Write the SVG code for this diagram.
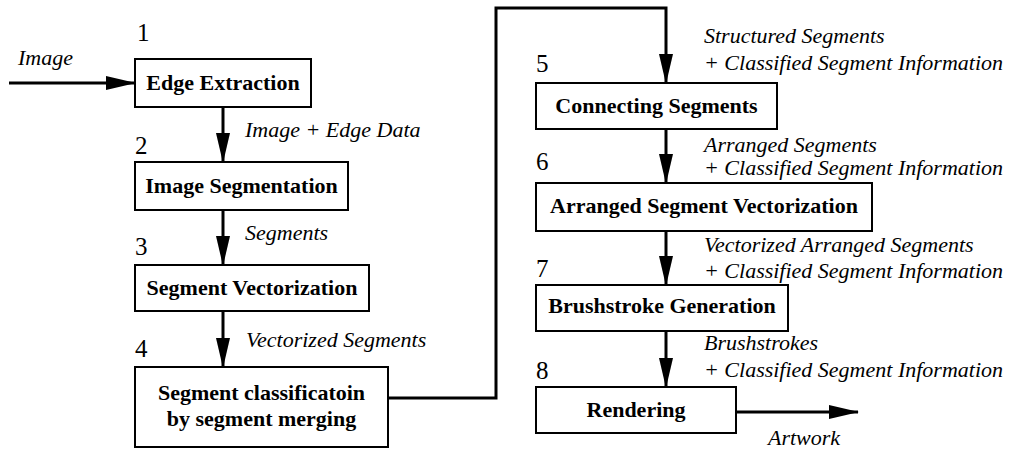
<svg xmlns="http://www.w3.org/2000/svg" width="1026" height="451" viewBox="0 0 1026 451">
<style>
.box{fill:#fff;stroke:#000;stroke-width:2}
.t{font-family:"Liberation Serif","Times New Roman",serif;font-weight:bold;font-size:22px;text-anchor:middle;fill:#000}
.n{font-family:"Liberation Serif","Times New Roman",serif;font-size:25px;fill:#000}
.l{font-family:"Liberation Serif","Times New Roman",serif;font-style:italic;font-size:22px;fill:#000}
.c{fill:none;stroke:#000;stroke-width:3;marker-end:url(#ah)}
</style>
<defs>
<marker id="ah" markerUnits="userSpaceOnUse" markerWidth="30" markerHeight="14" refX="29" refY="7" orient="auto">
<path d="M0,0 L30,7 L0,14 z" fill="#000"/>
</marker>
</defs>
<rect width="1026" height="451" fill="#fff"/>
<g id="connectors">
<path class="c" d="M9,83 H135"/>
<path class="c" d="M223,107 V162"/>
<path class="c" d="M223,210 V265"/>
<path class="c" d="M223,311 V367"/>
<path class="c" d="M388,398 H496 V8 H666 V83" stroke-linejoin="miter"/>
<path class="c" d="M666,129 V183"/>
<path class="c" d="M666,231 V285"/>
<path class="c" d="M666,331 V387"/>
<path class="c" d="M736,412 H858"/>
</g>
<g id="labels">
<text class="l" x="18" y="65">Image</text>
<text class="l" x="245" y="137">Image + Edge Data</text>
<text class="l" x="245" y="240">Segments</text>
<text class="l" x="246" y="347">Vectorized Segments</text>
<text class="l" x="704" y="43">Structured  Segments</text>
<text class="l" x="704" y="70">+ Classified Segment Information</text>
<text class="l" x="704" y="152">Arranged Segments</text>
<text class="l" x="704" y="175">+ Classified Segment Information</text>
<text class="l" x="704" y="252">Vectorized Arranged Segments</text>
<text class="l" x="704" y="278">+ Classified Segment Information</text>
<text class="l" x="704" y="350">Brushstrokes</text>
<text class="l" x="704" y="377">+ Classified Segment Information</text>
<text class="l" x="768" y="445">Artwork</text>
</g>
<g id="n1">
<text class="n" x="137" y="41">1</text>
<rect class="box" x="135" y="59" width="176" height="48"/>
<text class="t" x="223" y="90">Edge Extraction</text>
</g>
<g id="n2">
<text class="n" x="135" y="154">2</text>
<rect class="box" x="135" y="162" width="213" height="48"/>
<text class="t" x="241.5" y="193">Image Segmentation</text>
</g>
<g id="n3">
<text class="n" x="135" y="255">3</text>
<rect class="box" x="135" y="265" width="234" height="46"/>
<text class="t" x="252" y="295">Segment Vectorization</text>
</g>
<g id="n4">
<text class="n" x="135" y="357">4</text>
<rect class="box" x="135" y="367" width="253" height="80"/>
<text class="t" x="261.5" y="400">Segment classificatoin</text>
<text class="t" x="261.5" y="426">by segment merging</text>
</g>
<g id="n5">
<text class="n" x="536" y="72">5</text>
<rect class="box" x="536" y="83" width="241" height="46"/>
<text class="t" x="656.5" y="113">Connecting  Segments</text>
</g>
<g id="n6">
<text class="n" x="536" y="170">6</text>
<rect class="box" x="536" y="183" width="336" height="48"/>
<text class="t" x="704" y="213">Arranged Segment Vectorization</text>
</g>
<g id="n7">
<text class="n" x="536" y="277">7</text>
<rect class="box" x="536" y="285" width="252" height="46"/>
<text class="t" x="662" y="313">Brushstroke Generation</text>
</g>
<g id="n8">
<text class="n" x="536" y="379">8</text>
<rect class="box" x="536" y="387" width="200" height="46"/>
<text class="t" x="636" y="417">Rendering</text>
</g>
</svg>
